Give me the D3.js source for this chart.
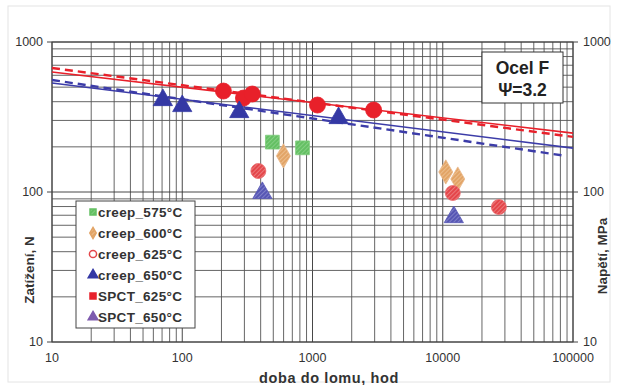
<!DOCTYPE html>
<html>
<head>
<meta charset="utf-8">
<script src="https://cdn.jsdelivr.net/npm/d3@7"></script>
<style>
  body { margin: 0; background: #fff; }
  svg { font-family: Arial, "Liberation Sans", sans-serif; }
</style>
</head>
<body>
<svg id="chart" width="618" height="385"></svg>
<script>
// tick values
var xTicks = [10, 100, 1000, 10000, 100000];
var yTicks = [10, 100, 1000];

// creep tests (hatched markers)
var creep575 = [[492, 215], [838, 197]];
var creep600 = [[598, 174], [10550, 136], [13040, 122]];
var creep625 = [[384, 138], [11940, 98.5], [26970, 79.4]];
var creep650 = [[412, 98.5], [12160, 68]];

// SPCT tests (solid markers)
var spct625 = [[207, 471], [295, 423], [345, 450], [1092, 380], [2945, 352]];
var spct650 = [[71, 410], [100, 374], [274, 341], [1585, 311]];

// trend lines: [x, y] endpoints
var redSolid = [[10, 631], [100000, 247]];
var redDash = [[10, 671], [100000, 233]];
var blueSolid = [[10, 533], [100000, 196]];
var blueDash = [[10, 558], [88300, 174]];

var legendNames = ["creep_575°C", "creep_600°C", "creep_625°C", "creep_650°C", "SPCT_625°C", "SPCT_650°C"];

var svg = d3.select("#chart");
var margins = { top: 42, bottom: 43, left: 52, right: 45 };
var width = 618 - margins.left - margins.right;
var height = 385 - margins.top - margins.bottom;

var x = d3.scaleLog().domain([10, 100000]).range([0, width]);
var y = d3.scaleLog().domain([10, 1000]).range([height, 0]);

// faint outer frame
svg.append("rect")
    .attr("x", 8).attr("y", 6).attr("width", 602).attr("height", 376)
    .attr("fill", "none").attr("stroke", "#e4e4e4");

// hatch patterns
var defs = svg.append("defs");
function hatch(id, bg, fg) {
    var p = defs.append("pattern")
        .attr("id", id)
        .attr("patternUnits", "userSpaceOnUse")
        .attr("width", 3).attr("height", 3)
        .attr("patternTransform", "rotate(45)");
    p.append("rect").attr("width", 3).attr("height", 3).attr("fill", bg);
    p.append("line").attr("x1", 0).attr("y1", 0).attr("x2", 0).attr("y2", 3)
        .attr("stroke", fg).attr("stroke-width", 1.2);
}
hatch("h575", "#64c063", "#9ad898");
hatch("h600", "#e2a466", "#f4cfa4");
hatch("h625", "#e4464a", "#f19a9b");
hatch("h650", "#5656b4", "#9a9ad6");

var g = svg.append("g").attr("transform", "translate(" + margins.left + "," + margins.top + ")");

// grid
var xGrid = x.ticks();
var yGrid = y.ticks();
g.selectAll(".vg").data(xGrid).enter().append("line")
    .attr("x1", d => x(d)).attr("x2", d => x(d))
    .attr("y1", 0).attr("y2", height)
    .attr("stroke", d => xTicks.indexOf(d) >= 0 ? "#333" : "#555")
    .attr("stroke-width", 0.9);
g.selectAll(".hg").data(yGrid).enter().append("line")
    .attr("x1", 0).attr("x2", width)
    .attr("y1", d => y(d)).attr("y2", d => y(d))
    .attr("stroke", d => yTicks.indexOf(d) >= 0 ? "#333" : "#555")
    .attr("stroke-width", 0.9);

g.append("rect")
    .attr("width", width).attr("height", height)
    .attr("fill", "none").attr("stroke", "#444").attr("stroke-width", 1);

// axes labels
var tickStyle = function (sel) {
    sel.attr("font-size", 12.5).attr("fill", "#333");
};
g.selectAll(".xl").data(xTicks).enter().append("text")
    .attr("x", d => x(d)).attr("y", height + 20)
    .attr("text-anchor", "middle").text(d => d).call(tickStyle);
g.selectAll(".yl").data(yTicks).enter().append("text")
    .attr("x", -9).attr("y", d => y(d)).attr("dy", "0.35em")
    .attr("text-anchor", "end").text(d => d).call(tickStyle);
g.selectAll(".yr").data(yTicks).enter().append("text")
    .attr("x", width + 10).attr("y", d => y(d)).attr("dy", "0.35em")
    .attr("text-anchor", "start").text(d => d).call(tickStyle);
// small tick marks
g.selectAll(".ytl").data(yTicks).enter().append("line")
    .attr("x1", -5).attr("x2", 0).attr("y1", d => y(d)).attr("y2", d => y(d))
    .attr("stroke", "#444");
g.selectAll(".ytr").data(yTicks).enter().append("line")
    .attr("x1", width).attr("x2", width + 5).attr("y1", d => y(d)).attr("y2", d => y(d))
    .attr("stroke", "#444");

svg.append("text")
    .attr("x", 329).attr("y", 383)
    .attr("text-anchor", "middle").attr("font-size", 14.5).attr("font-weight", 700)
    .attr("fill", "#333").attr("letter-spacing", 0.6).text("doba do lomu, hod");
svg.append("text")
    .attr("transform", "translate(34,270) rotate(-90)")
    .attr("text-anchor", "middle").attr("font-size", 13.5).attr("font-weight", 700)
    .attr("fill", "#333").text("Zatížení, N");
svg.append("text")
    .attr("transform", "translate(607,256) rotate(-90)")
    .attr("text-anchor", "middle").attr("font-size", 13.5).attr("font-weight", 700)
    .attr("fill", "#333").text("Napětí, MPa");

// trend lines
var line = d3.line().x(d => x(d[0])).y(d => y(d[1]));
g.append("path").datum(blueSolid).attr("d", line)
    .attr("stroke", "#3c3ca8").attr("stroke-width", 1.6).attr("fill", "none");
g.append("path").datum(blueDash).attr("d", line)
    .attr("stroke", "#3c3ca8").attr("stroke-width", 2.4).attr("stroke-dasharray", "8,5").attr("fill", "none");
g.append("path").datum(redSolid).attr("d", line)
    .attr("stroke", "#e8202a").attr("stroke-width", 1.6).attr("fill", "none");
g.append("path").datum(redDash).attr("d", line)
    .attr("stroke", "#e8202a").attr("stroke-width", 2.4).attr("stroke-dasharray", "8,5").attr("fill", "none");

// markers
var sq = d3.symbol().type(d3.symbolSquare).size(190);
var dm = d3.symbol().type(d3.symbolDiamond).size(170);
var tri = d3.symbol().type(d3.symbolTriangle).size(160);

function points(data, sym, fill, stroke, r) {
    var sel = g.append("g").selectAll("path").data(data).enter();
    if (sym === "circle") {
        sel.append("circle")
            .attr("cx", d => x(d[0])).attr("cy", d => y(d[1])).attr("r", r)
            .attr("fill", fill).attr("stroke", stroke).attr("stroke-width", 0.8);
    } else {
        sel.append("path").attr("d", sym)
            .attr("transform", d => "translate(" + x(d[0]) + "," + y(d[1]) + ")")
            .attr("fill", fill).attr("stroke", stroke).attr("stroke-width", 0.8);
    }
}
points(creep575, sq, "url(#h575)", "#7ccc7a");
points(creep600, dm, "url(#h600)", "#e8b88a");
points(creep625, "circle", "url(#h625)", "#e86a6c", 7.5);
points(creep650, tri, "url(#h650)", "#5656b4");
points(spct625, "circle", "#e8202a", "#e8202a", 8);
points(spct650, tri, "#3438a4", "#3438a4");

// annotation box
var ab = svg.append("g").attr("transform", "translate(482,52)");
ab.append("rect").attr("width", 81).attr("height", 51)
    .attr("fill", "#fff").attr("stroke", "#333").attr("stroke-width", 1);
ab.append("text").attr("x", 40.5).attr("y", 22).attr("text-anchor", "middle")
    .attr("font-size", 17.5).attr("font-weight", 700).attr("fill", "#222").text("Ocel F");
ab.append("text").attr("x", 40.5).attr("y", 44).attr("text-anchor", "middle")
    .attr("font-size", 17.5).attr("font-weight", 700).attr("fill", "#222").text("Ψ=3.2");

// legend
var lg = svg.append("g").attr("transform", "translate(76,201)");
lg.append("rect").attr("width", 119).attr("height", 127)
    .attr("fill", "#fff").attr("stroke", "#444").attr("stroke-width", 1);
var legSym = [
    { s: d3.symbol().type(d3.symbolSquare).size(36)(), f: "url(#h575)", c: "#64c063" },
    { s: d3.symbol().type(d3.symbolDiamond).size(36)(), f: "url(#h600)", c: "#e2a466" },
    { s: d3.symbol().type(d3.symbolCircle).size(40)(), f: "#fff", c: "#e4464a" },
    { s: d3.symbol().type(d3.symbolTriangle).size(40)(), f: "#3438a4", c: "#3438a4" },
    { s: d3.symbol().type(d3.symbolSquare).size(36)(), f: "#e8202a", c: "#e8202a" },
    { s: d3.symbol().type(d3.symbolTriangle).size(40)(), f: "#7e5aae", c: "#7e5aae" }
];
var li = lg.selectAll(".li").data(legendNames).enter().append("g")
    .attr("transform", (d, i) => "translate(0," + (11 + i * 21) + ")");
li.append("path").attr("d", (d, i) => legSym[i].s)
    .attr("transform", "translate(17,0)")
    .attr("fill", (d, i) => legSym[i].f)
    .attr("stroke", (d, i) => legSym[i].c).attr("stroke-width", 1.5);
li.append("text").attr("x", 22).attr("dy", "0.35em")
    .attr("font-size", 13.5).attr("font-weight", 700).attr("fill", "#333")
    .attr("letter-spacing", 0.3).text(d => d);
</script>
</body>
</html>
